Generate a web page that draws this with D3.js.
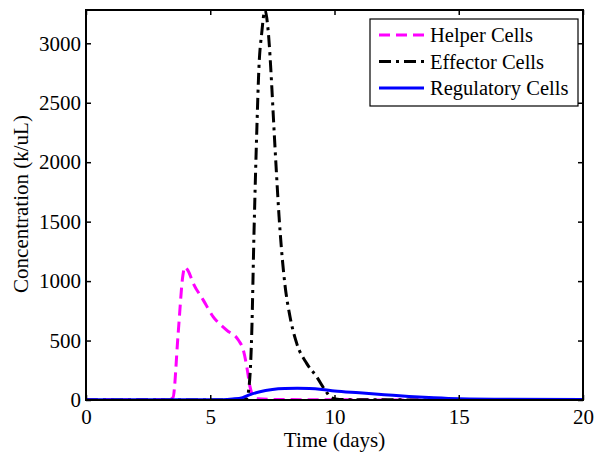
<!DOCTYPE html>
<html><head><meta charset="utf-8">
<script src="https://cdn.jsdelivr.net/npm/d3@7"></script>
<style>body{margin:0;background:#fff}svg{display:block}text{font-family:"Liberation Serif","Times New Roman",serif;fill:#000}</style>
</head><body><svg id="c" width="594" height="452"></svg>
<script>
const xTicks = [0, 5, 10, 15, 20];
const yTicks = [0, 500, 1000, 1500, 2000, 2500, 3000];
const seriesNames = ["Helper Cells", "Effector Cells", "Regulatory Cells"];

const helperT = [0, 3.3, 3.5, 3.71, 3.9, 3.98, 4.1, 4.32, 4.72, 5.12, 5.66, 6.13, 6.33, 6.47, 6.6, 6.73, 6.9, 7.5, 10, 14, 20];
const helperV = [0, 0, 20, 563, 1050, 1118, 1090, 980, 840, 700, 588, 504, 420, 280, 112, 28, 10, 5, 2, 0, 0];

const effectorT = [0, 6.3, 6.45, 6.53, 6.67, 6.76, 6.87, 6.96, 7.07, 7.2, 7.34, 7.47, 7.54, 7.65, 7.77, 7.87, 8.0, 8.21, 8.48, 8.88, 9.28, 9.62, 9.89, 10.2, 11, 13, 15, 20];
const effectorV = [0, 0, 10, 60, 563, 1400, 2244, 2800, 3084, 3275, 3084, 2660, 2380, 1960, 1540, 1260, 980, 700, 476, 308, 196, 84, 17, 5, 2, 1, 0, 0];

const regT = [0, 5.5, 5.9, 6.3, 6.6, 7.0, 7.5, 8.0, 8.5, 9.0, 9.5, 10, 11, 12, 13, 14, 15, 17, 20];
const regV = [3, 3, 8, 20, 45, 70, 88, 96, 98, 96, 88, 75, 60, 45, 30, 18, 10, 6, 5];

const m = {l: 86, r: 583, t: 10, b: 400};
const FS = "21px";
const svg = d3.select("#c");
const x = d3.scaleLinear().domain([0, 20]).range([m.l, m.r]);
const y = d3.scaleLinear().domain([0, 3280]).range([m.b, m.t]);

svg.append("clipPath").attr("id", "cp").append("rect")
  .attr("x", m.l).attr("y", m.t).attr("width", m.r - m.l).attr("height", m.b - m.t);

const series = [
  {name: seriesNames[0], t: helperT, v: helperV, color: "#ff00ff", dash: "11,6"},
  {name: seriesNames[1], t: effectorT, v: effectorV, color: "#000000", dash: "12,5,3,5"},
  {name: seriesNames[2], t: regT, v: regV, color: "#0000ff", dash: null}
];
const line = d3.line().x(d => x(d[0])).y(d => y(d[1])).curve(d3.curveMonotoneX);
const g = svg.append("g").attr("clip-path", "url(#cp)");
series.forEach(s => {
  g.append("path").datum(s.t.map((t, i) => [t, s.v[i]]))
    .attr("d", line).attr("fill", "none").attr("stroke", s.color)
    .attr("stroke-width", 3).attr("stroke-dasharray", s.dash);
});

const fmt = d3.format("d");
const axB = d3.axisBottom(x).tickValues(xTicks).tickFormat(fmt).tickSizeInner(-5).tickSizeOuter(0).tickPadding(9);
const axL = d3.axisLeft(y).tickValues(yTicks).tickFormat(fmt).tickSizeInner(-5).tickSizeOuter(0).tickPadding(5);
const axT = d3.axisTop(x).tickValues(xTicks).tickSizeInner(-5).tickSizeOuter(0).tickFormat("");
const axR = d3.axisRight(y).tickValues(yTicks).tickSizeInner(-5).tickSizeOuter(0).tickFormat("");
function style(sel) {
  sel.attr("font-family", "Liberation Serif").attr("font-size", 21);
  sel.selectAll("text").style("font-family", '"Liberation Serif", serif').style("font-size", FS).attr("fill", "#000");
  sel.selectAll("line").attr("stroke", "#000").attr("stroke-width", 1.5);
  sel.select(".domain").remove();
}
svg.append("g").attr("transform", `translate(0,${m.b})`).call(axB).call(style);
svg.append("g").attr("transform", `translate(${m.l},0)`).call(axL).call(style);
svg.append("g").attr("transform", `translate(0,${m.t})`).call(axT).call(style);
svg.append("g").attr("transform", `translate(${m.r},0)`).call(axR).call(style);
svg.append("rect").attr("x", m.l).attr("y", m.t).attr("width", m.r - m.l).attr("height", m.b - m.t)
  .attr("fill", "none").attr("stroke", "#000").attr("stroke-width", 2);

svg.append("text").attr("x", (m.l + m.r) / 2).attr("y", 447).attr("text-anchor", "middle")
  .style("font-size", FS).text("Time (days)");
svg.append("text").attr("transform", `translate(28,204) rotate(-90)`)
  .attr("text-anchor", "middle").style("font-size", FS).text("Concentration (k/uL)");

const lg = svg.append("g");
lg.append("rect").attr("x", 370).attr("y", 19).attr("width", 208).attr("height", 87)
  .attr("fill", "#fff").attr("stroke", "#000").attr("stroke-width", 1.2);
series.forEach((s, i) => {
  const yy = 35 + i * 26.5;
  lg.append("line").attr("x1", 379).attr("x2", 424).attr("y1", yy).attr("y2", yy)
    .attr("stroke", s.color).attr("stroke-width", 3).attr("stroke-dasharray", s.dash);
  lg.append("text").attr("x", 430).attr("y", yy).attr("dy", "0.35em")
    .style("font-size", "20.5px").text(s.name);
});
</script></body></html>
